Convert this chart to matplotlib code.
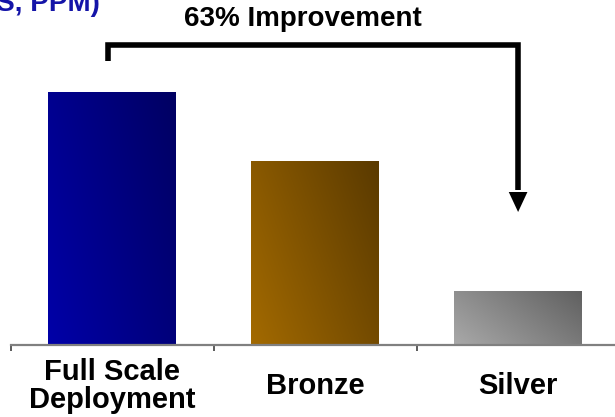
import numpy as np
import matplotlib
matplotlib.use('Agg')
import matplotlib.pyplot as plt
from matplotlib.colors import LinearSegmentedColormap

plt.rcParams['font.family'] = ['Liberation Sans', 'DejaVu Sans']
plt.rcParams['font.weight'] = 'bold'

categories = ['Full Scale\nDeployment', 'Bronze', 'Silver']
values = [253, 184, 54]
# gradient ends: bottom-left colour, top-right colour
bar_colors = [('#0000a8', '#000062'),
              ('#a36a00', '#5a3a00'),
              ('#a9a9a9', '#606060')]
improvement_label = '63% Improvement'
y_title = '(DEFECTS, PPM)'

fig = plt.figure(figsize=(6.15, 4.17), dpi=100)
ax = fig.add_axes([10.6 / 615, 72 / 417, 609 / 615, 345 / 417])

x = np.arange(len(values))
bars = ax.bar(x, values, width=0.63, color='none', edgecolor='none')

# fill each bar with a diagonal gradient
gy, gx = np.mgrid[0:1:200j, 0:1:200j]
grad = 0.65 * gx + 0.35 * gy
for b, (c0, c1) in zip(bars, bar_colors):
    cmap = LinearSegmentedColormap.from_list('g', [c0, c1])
    x0, w, h = b.get_x(), b.get_width(), b.get_height()
    im = ax.imshow(grad, cmap=cmap, origin='lower', aspect='auto',
                   extent=[x0, x0 + w, 0, h], interpolation='bilinear',
                   vmin=0, vmax=1)
    im.set_clip_path(b)

ax.set_xlim(-0.5, 2.5)
ax.set_ylim(0, 345)

for s in ['top', 'right', 'left']:
    ax.spines[s].set_visible(False)
ax.spines['bottom'].set_color('#808080')
ax.spines['bottom'].set_linewidth(1.6)
ax.set_yticks([])

ax.set_xticks(x)
ax.set_xticklabels(categories, fontsize=21, fontweight='bold',
                   linespacing=0.98)
ax.tick_params(axis='x', which='major', length=0, pad=29.5)
plt.setp(ax.get_xticklabels(), va='center')
ax.set_xticks([-0.5, 0.5, 1.5], minor=True)
ax.tick_params(axis='x', which='minor', length=4, width=1.2,
               color='#404040', direction='out')

# bracket from first bar to the arrow over the last bar
xl, xr = -0.018, 2.0
y_top, y_left, y_head = 300.5, 284, 153
ax.plot([xl, xl, xr, xr], [y_left, y_top, y_top, y_head + 2], color='black',
        lw=4, solid_joinstyle='miter', solid_capstyle='butt', clip_on=False)
ax.fill([xr - 0.046, xr + 0.046, xr], [y_head, y_head, 133], color='black',
        lw=0, clip_on=False)
ax.text(0.94, 325.5, improvement_label, ha='center', va='center',
        fontsize=20, fontweight='bold', clip_on=False)

fig.text(100 / 615, 1 - 11 / 417, y_title, ha='right', va='baseline',
         fontsize=20, fontweight='bold', color='#1414a8')

fig.savefig('out.png', dpi=100)
